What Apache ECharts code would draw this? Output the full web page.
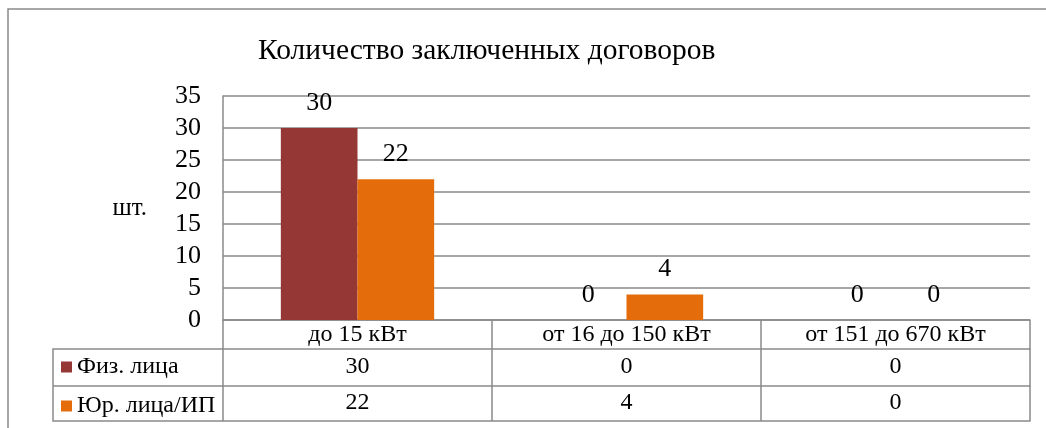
<!DOCTYPE html>
<html>
<head>
<meta charset="utf-8">
<script src="https://cdn.jsdelivr.net/npm/echarts@6/dist/echarts.min.js"></script>
<style>
  html, body { margin: 0; padding: 0; background: #fff; }
  #chart { width: 1046px; height: 428px; }
</style>
</head>
<body>
<div id="chart"></div>
<script>
// данные диаграммы
const categories = ['до 15 кВт', 'от 16 до 150 кВт', 'от 151 до 670 кВт'];
const seriesNames = ['Физ. лица', 'Юр. лица/ИП'];
const phys = [30, 0, 0];
const jur = [22, 4, 0];

const serif = '"Liberation Serif", "Times New Roman", serif';
const lineColor = '#8a8a8a';

const initChart = () => {
    let dom = document.getElementById('chart');
    let myChart = echarts.init(dom, null, {renderer: 'canvas'});

    const tableAxis = (data, offset, margin) => ({
        type: 'category',
        data: data,
        position: 'bottom',
        offset: offset,
        axisLine: {show: true, lineStyle: {color: lineColor, width: 1.5}},
        axisTick: {show: false},
        axisLabel: {
            show: true,
            interval: 0,
            margin: margin,
            color: '#000',
            fontFamily: serif,
            fontSize: 24,
            lineHeight: 22
        }
    });

    let option = {
        animation: false,
        title: {
            text: 'Количество заключенных договоров',
            left: 253,
            top: 31,
            textStyle: {fontFamily: serif, fontSize: 29.5, fontWeight: 'normal', color: '#000'}
        },
        legend: {
            orient: 'vertical',
            left: 61,
            top: 355,
            padding: 0,
            itemWidth: 11,
            itemHeight: 11,
            itemGap: 15,
            icon: 'rect',
            data: seriesNames,
            textStyle: {fontFamily: serif, fontSize: 24, lineHeight: 22, color: '#000'}
        },
        grid: {left: 223, right: 16, top: 96, bottom: 108, containLabel: false},
        xAxis: [
            {
                type: 'category',
                data: categories,
                position: 'bottom',
                axisLine: {show: true, lineStyle: {color: lineColor, width: 1.5}},
                axisTick: {show: true, interval: 0, length: 101, lineStyle: {color: lineColor, width: 1.5}},
                axisLabel: {interval: 0, margin: 4, color: '#000', fontFamily: serif, fontSize: 24, lineHeight: 22}
            },
            tableAxis(phys.map(String), 29, 7),
            tableAxis(jur.map(String), 66, 6),
            tableAxis(categories.map(() => ''), 101, 0)
        ],
        yAxis: {
            type: 'value',
            min: 0,
            max: 35,
            interval: 5,
            name: 'шт.',
            nameLocation: 'middle',
            nameRotate: 0,
            nameGap: 76,
            nameTextStyle: {fontFamily: serif, fontSize: 25, color: '#000', padding: [16, 0, 0, 0]},
            axisLine: {show: true, lineStyle: {color: lineColor, width: 1.5}},
            axisTick: {show: false},
            axisLabel: {margin: 22, color: '#000', fontFamily: serif, fontSize: 26},
            splitLine: {lineStyle: {color: lineColor, width: 1.5}}
        },
        series: [
            {
                name: seriesNames[0],
                type: 'bar',
                data: phys,
                barGap: '0%',
                barCategoryGap: '43%',
                itemStyle: {color: '#953735'},
                label: {show: true, position: 'top', distance: 12, color: '#000', fontFamily: serif, fontSize: 26}
            },
            {
                name: seriesNames[1],
                type: 'bar',
                data: jur,
                barGap: '0%',
                barCategoryGap: '43%',
                itemStyle: {color: '#E46C0A'},
                label: {show: true, position: 'top', distance: 12, color: '#000', fontFamily: serif, fontSize: 26}
            }
        ],
        graphic: [
            {
                type: 'rect',
                shape: {x: 8, y: 9, width: 1100, height: 500},
                style: {fill: 'none', stroke: lineColor, lineWidth: 1.5}
            },
            {
                type: 'polyline',
                shape: {points: [[223, 349], [53, 349], [53, 421], [223, 421]]},
                style: {fill: 'none', stroke: lineColor, lineWidth: 1.5}
            },
            {
                type: 'line',
                shape: {x1: 53, y1: 386, x2: 223, y2: 386},
                style: {stroke: lineColor, lineWidth: 1.5}
            }
        ]
    };
    myChart.setOption(option);
};

initChart();
</script>
</body>
</html>
